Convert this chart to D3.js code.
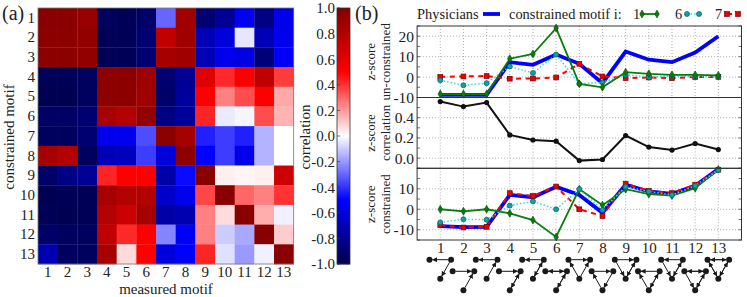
<!DOCTYPE html>
<html>
<head>
<meta charset="utf-8">
<script src="https://cdn.jsdelivr.net/npm/d3@7"></script>
<style>
  html, body { margin: 0; padding: 0; background: #fff; }
  svg { display: block; }
  text { font-family: "Liberation Serif", serif; fill: #222; }
</style>
</head>
<body>
<svg id="canvas" width="747" height="297"></svg>
<script>
let motifs = d3.range(1, 14)

let correlation = [
  [.96, .96, .9, -.95, -.97, -.92, -.3, .87, -.9, -.8, -.52, -.85, -.55],
  [.95, .95, .93, -.97, -.97, -.9, .75, .87, -.7, -.6, -.05, -.7, -.55],
  [.95, .95, .93, -.97, -.97, -.9, .85, .87, -.7, -.55, -.58, -.88, -.52],
  [-.97, -.97, -.95, .95, .95, .88, -.9, -.8, .62, .42, .52, .75, .38],
  [-.98, -.98, -.95, .95, .95, .87, -.92, -.78, .5, .25, .35, .5, .17],
  [-.93, -.93, -.9, .85, .8, .92, -.85, -.78, .43, -.04, -.02, .35, .15],
  [-.95, -.95, -.9, -.55, -.55, -.35, .95, .85, -.44, -.38, -.44, -.15, 0],
  [.85, .8, -.95, -.7, -.68, -.38, -.6, .95, -.5, -.38, -.55, -.15, 0],
  [-.92, -.85, -.8, .43, .5, .5, -.75, -.48, .97, .03, .02, .03, .7],
  [-.98, -.97, -.97, .85, .8, .8, -.65, -.55, .36, .97, .3, .25, .4],
  [-.97, -.98, -.97, .8, .7, .85, -.75, -.72, .25, .07, .97, .16, -.03],
  [-.92, -.95, -.95, .75, .42, .5, -.24, -.52, .25, -.1, -.17, .97, .1],
  [-.72, -.95, -.95, .85, .07, .5, -.6, -.5, .43, -.06, -.2, -.03, .97]
]

let physUn = [-8.7, -8.7, -8.7, 7.3, 6, 11, 6.5, -3, 12.5, 8.5, 7.3, 12, 20]
let m1Un = [-8.3, -8.3, -8.3, 9, 11.3, 24, -3.3, -5, 2.4, 1.6, 1.1, 1.1, .8]
let m6Un = [-1.6, -4, -3, 5.2, 2, 11, -3.3, -2.6, 1.1, 0, .5, .3, .2]
let m7Un = [.1, .3, .5, -.8, -.7, -.2, 6.5, .3, -.5, -.2, -.5, 0, .1]

let zCorr = [.56, .51, .55, .23, .18, .168, -.024, -.013, .224, .11, .08, .145, .085]

let physCon = [-8.2, -8.7, -8.6, 7, 5.9, 11, 7, -1.7, 12, 8.7, 7.5, 11.5, 19.7]
let m1Con = [0, -1, 0, -2, -5.3, -13.5, 9.8, 2, 9.8, 7.4, 6.7, 10.3, 19.5]
let m6Con = [-6.4, -4.9, -5.1, 1.8, 3.9, 0, 9.8, -.3, 11, 8.7, 7, 11.5, 19.2]
let m7Con = [-7.8, -8.9, -8.6, 7.9, 6.5, 11.1, 0, -3.3, 12.5, 9, 7.9, 12, 19.3]

// edges of each motif: a = top left, b = top right, c = bottom
let motifEdges = [
  ['ba', 'bc'],
  ['ab', 'cb'],
  ['ba', 'cb'],
  ['ab', 'bc', 'cb'],
  ['ba', 'bc', 'cb'],
  ['ab', 'ba', 'bc', 'cb'],
  ['ab', 'ca', 'cb'],
  ['ab', 'bc', 'ca'],
  ['ab', 'ac', 'bc', 'cb'],
  ['ba', 'ca', 'bc', 'cb'],
  ['ba', 'ac', 'bc', 'cb'],
  ['ab', 'ba', 'ac', 'bc', 'cb'],
  ['ab', 'ba', 'ac', 'ca', 'bc', 'cb']
]

let svg = d3.select('#canvas')

let colorScale = d3.scaleLinear()
  .domain([-1, -.5, 0, .5, 1])
  .range(['#00004c', '#0000ff', '#ffffff', '#ff0000', '#800000'])

// panel a: heatmap
let hmX = d3.scaleBand().domain(motifs).range([38, 293.7])
let hmY = d3.scaleBand().domain(motifs).range([8, 264])

correlation.forEach((row, i) => {
  svg.selectAll(null)
    .data(row)
    .enter()
    .append('rect')
    .attr('x', (d, j) => hmX(motifs[j]))
    .attr('y', hmY(motifs[i]))
    .attr('width', hmX.bandwidth() + .3)
    .attr('height', hmY.bandwidth() + .3)
    .attr('fill', (d) => colorScale(d))
})

svg.append('rect')
  .attr('x', 38).attr('y', 8).attr('width', 255.7).attr('height', 256)
  .attr('fill', 'none').attr('stroke', '#777').attr('stroke-width', .8)

let axisStyle = (g) => {
  g.select('.domain').remove()
  g.selectAll('.tick line').remove()
  g.selectAll('text').attr('font-size', 15).attr('fill', '#222').attr('font-family', '"Liberation Serif", serif')
}

svg.append('g').attr('transform', 'translate(0,266)')
  .call(d3.axisBottom(hmX).tickSize(0).tickPadding(0)).call(axisStyle)
svg.append('g').attr('transform', 'translate(38,0)')
  .call(d3.axisLeft(hmY).tickSize(0).tickPadding(3)).call(axisStyle)

svg.append('text').attr('x', 166).attr('y', 294).attr('text-anchor', 'middle').attr('font-size', 15).text('measured motif')
svg.append('text').attr('transform', 'translate(14,137) rotate(-90)').attr('text-anchor', 'middle').attr('font-size', 15).text('constrained motif')
svg.append('text').attr('x', 2).attr('y', 20).attr('font-size', 20).text('(a)')

// colorbar
let barY = d3.scaleLinear().domain([-1, 1]).range([264, 8])
svg.selectAll(null)
  .data(d3.range(-1, 1, 2 / 256))
  .enter()
  .append('rect')
  .attr('x', 337).attr('width', 13)
  .attr('y', (d) => barY(d + 2 / 256))
  .attr('height', 1.4)
  .attr('fill', (d) => colorScale(d))
svg.append('rect').attr('x', 337).attr('y', 8).attr('width', 13).attr('height', 256)
  .attr('fill', 'none').attr('stroke', '#333').attr('stroke-width', .8)
let barTicks = d3.range(-5, 6).map((d) => d / 5)
let barAxis = svg.append('g').attr('transform', 'translate(337,0)')
  .call(d3.axisLeft(barY).tickValues(barTicks).tickFormat(d3.format('.1f')).tickSize(0).tickPadding(2))
barAxis.call(axisStyle)
barAxis.selectAll('text').text((d) => d3.format('.1f')(d).replace('\u2212', '-'))
svg.selectAll(null)
  .data(barTicks)
  .enter()
  .append('line')
  .attr('x1', 337).attr('x2', 340)
  .attr('y1', (d) => barY(d)).attr('y2', (d) => barY(d))
  .attr('stroke', '#333').attr('stroke-width', .7)
svg.append('text').attr('transform', 'translate(310,137) rotate(-90)').attr('text-anchor', 'middle').attr('font-size', 15).text('correlation')

// panel b: line panels
let x = d3.scaleLinear().domain([0, 14]).range([417.1, 741.5])

let panels = [
  { top: 26, bottom: 97.5, domain: [-10, 25], ticks: [-10, 0, 10, 20], minor: 5, fmt: 'd', l1: 'z-score', l2: 'un-constrained' },
  { top: 97.5, bottom: 168.3, domain: [-.1, .6], ticks: [0, .2, .4], minor: .1, fmt: '.1f', l1: 'z-score', l2: 'correlation' },
  { top: 168.3, bottom: 240, domain: [-15, 20], ticks: [-10, 0, 10], minor: 5, fmt: 'd', l1: 'z-score', l2: 'constrained' }
]

let blueStyle = { color: '#0000ff', width: 3.8, dash: null }
let greenStyle = { color: '#0a7d0a', width: 1.8, dash: null, marker: 'diamond' }
let cyanStyle = { color: '#33dcdc', width: 1.5, dash: '1.5,2', marker: 'circle' }
let redStyle = { color: '#ff0000', width: 2, dash: '5,4.5', marker: 'square' }

let drawMarker = (g, kind, px, py) => {
  if (kind === 'diamond') {
    g.append('path').attr('d', d3.symbol(d3.symbolDiamond, 18)())
      .attr('transform', `translate(${px},${py})`).attr('fill', '#0a7d0a').attr('stroke', '#044a04').attr('stroke-width', .6)
  } else if (kind === 'circle') {
    g.append('circle').attr('cx', px).attr('cy', py).attr('r', 2.5)
      .attr('fill', '#0aa5a5').attr('stroke', '#075a5a').attr('stroke-width', .7)
  } else if (kind === 'square') {
    g.append('rect').attr('x', px - 2.4).attr('y', py - 2.4).attr('width', 4.8).attr('height', 4.8)
      .attr('fill', '#ee0000').attr('stroke', '#7a0000').attr('stroke-width', .7)
  } else {
    g.append('circle').attr('cx', px).attr('cy', py).attr('r', 2.6).attr('fill', '#111')
  }
}

let drawSeries = (values, y, style) => {
  let line = d3.line().x((d, i) => x(motifs[i])).y((d) => y(d))
  let g = svg.append('g')
  g.append('path').attr('d', line(values)).attr('fill', 'none')
    .attr('stroke', style.color).attr('stroke-width', style.width)
    .attr('stroke-dasharray', style.dash)
  if (style.marker) {
    values.forEach((d, i) => drawMarker(g, style.marker, x(motifs[i]), y(d)))
  }
}

panels.forEach((p) => {
  p.y = d3.scaleLinear().domain(p.domain).range([p.bottom, p.top])
  let y = p.y

  // dotted grid
  svg.selectAll(null).data(p.ticks).enter().append('line')
    .attr('x1', 417.1).attr('x2', 741.5)
    .attr('y1', (d) => y(d)).attr('y2', (d) => y(d))
    .attr('stroke', '#999').attr('stroke-width', .8).attr('stroke-dasharray', '1,2')
  svg.selectAll(null).data(motifs).enter().append('line')
    .attr('x1', (d) => x(d)).attr('x2', (d) => x(d))
    .attr('y1', p.top).attr('y2', p.bottom)
    .attr('stroke', '#999').attr('stroke-width', .8).attr('stroke-dasharray', '1,2')

  // inward ticks on both sides, every minor step
  let minorTicks = d3.range(p.domain[0], p.domain[1] + p.minor / 2, p.minor)
  svg.selectAll(null).data(minorTicks).enter().append('line')
    .attr('x1', 417.1).attr('x2', 420)
    .attr('y1', (d) => y(d)).attr('y2', (d) => y(d)).attr('stroke', '#333').attr('stroke-width', .7)
  svg.selectAll(null).data(minorTicks).enter().append('line')
    .attr('x1', 738.6).attr('x2', 741.5)
    .attr('y1', (d) => y(d)).attr('y2', (d) => y(d)).attr('stroke', '#333').attr('stroke-width', .7)

  let yAxis = svg.append('g').attr('transform', 'translate(417.1,0)')
    .call(d3.axisLeft(y).tickValues(p.ticks).tickFormat(d3.format(p.fmt)).tickSize(0).tickPadding(3))
  yAxis.call(axisStyle)
  yAxis.selectAll('text').attr('font-size', 15.5).text((d) => d3.format(p.fmt)(d).replace('\u2212', '-'))

  let mid = (p.top + p.bottom) / 2
  svg.append('text').attr('transform', `translate(375,${mid}) rotate(-90)`).attr('text-anchor', 'middle').attr('font-size', 13).text(p.l1)
  svg.append('text').attr('transform', `translate(390,${mid}) rotate(-90)`).attr('text-anchor', 'middle').attr('font-size', 13).text(p.l2)
})

let [p1, p2, p3] = panels
drawSeries(physUn, p1.y, blueStyle)
drawSeries(m7Un, p1.y, redStyle)
drawSeries(m6Un, p1.y, cyanStyle)
drawSeries(m1Un, p1.y, greenStyle)

drawSeries(zCorr, p2.y, { color: '#111', width: 2, dash: null, marker: 'dot' })

drawSeries(physCon, p3.y, blueStyle)
drawSeries(m7Con, p3.y, redStyle)
drawSeries(m1Con, p3.y, greenStyle)
drawSeries(m6Con, p3.y, cyanStyle)

// panel frames
panels.forEach((p) => {
  svg.append('rect').attr('x', 417.1).attr('y', p.top).attr('width', 324.4).attr('height', p.bottom - p.top)
    .attr('fill', 'none').attr('stroke', '#333').attr('stroke-width', 1)
})

let xAxis = svg.append('g').attr('transform', 'translate(0,240)')
  .call(d3.axisBottom(x).tickValues(motifs).tickFormat(d3.format('d')).tickSize(0).tickPadding(2))
xAxis.call(axisStyle)

// motif glyphs under the x axis, two staggered rows
svg.append('defs').append('marker')
  .attr('id', 'arrow').attr('viewBox', '0 0 6 6').attr('refX', 5.5).attr('refY', 3)
  .attr('markerWidth', 5).attr('markerHeight', 5).attr('markerUnits', 'userSpaceOnUse').attr('orient', 'auto')
  .append('path').attr('d', 'M0,0L6,3L0,6Z').attr('fill', '#1a1a1a')

let drawMotif = (edges, i) => {
  let cx = x(motifs[i])
  let top = i % 2 === 0 ? 259.7 : 271.3
  let nodes = { a: [cx - 10.8, top], b: [cx + 10.8, top], c: [cx, top + 19] }
  let g = svg.append('g')
  edges.forEach((e) => {
    let [x1, y1] = nodes[e[0]]
    let [x2, y2] = nodes[e[1]]
    let len = Math.hypot(x2 - x1, y2 - y1)
    let ux = (x2 - x1) / len
    let uy = (y2 - y1) / len
    g.append('line')
      .attr('x1', x1 + ux * 3).attr('y1', y1 + uy * 3)
      .attr('x2', x2 - ux * 3).attr('y2', y2 - uy * 3)
      .attr('stroke', '#1a1a1a').attr('stroke-width', 1)
      .attr('marker-end', 'url(#arrow)')
  })
  Object.values(nodes).forEach(([nx, ny]) => {
    g.append('circle').attr('cx', nx).attr('cy', ny).attr('r', 3).attr('fill', '#1a1a1a')
  })
}
motifEdges.forEach(drawMotif)

// legend
let legendY = 14
svg.append('text').attr('x', 355).attr('y', 20).attr('font-size', 20).text('(b)')
svg.append('text').attr('x', 417).attr('y', 19).attr('font-size', 14.4).text('Physicians')
svg.append('line').attr('x1', 483).attr('x2', 500).attr('y1', legendY).attr('y2', legendY).attr('stroke', '#0000ff').attr('stroke-width', 3.8)
svg.append('text').attr('x', 509).attr('y', 19).attr('font-size', 14.4).text('constrained motif i:')

let legendItems = [
  { label: '1', textX: 633, x1: 642, x2: 657, style: greenStyle },
  { label: '6', textX: 675, x1: 687, x2: 699, style: cyanStyle },
  { label: '7', textX: 715, x1: 727, x2: 738, style: redStyle }
]
legendItems.forEach((item) => {
  svg.append('text').attr('x', item.textX).attr('y', 19).attr('font-size', 14.4).text(item.label)
  let g = svg.append('g')
  g.append('line').attr('x1', item.x1).attr('x2', item.x2).attr('y1', legendY).attr('y2', legendY)
    .attr('stroke', item.style.color).attr('stroke-width', item.style.width).attr('stroke-dasharray', item.style.dash)
  drawMarker(g, item.style.marker, item.x1, legendY)
  drawMarker(g, item.style.marker, item.x2, legendY)
})
</script>
</body>
</html>
